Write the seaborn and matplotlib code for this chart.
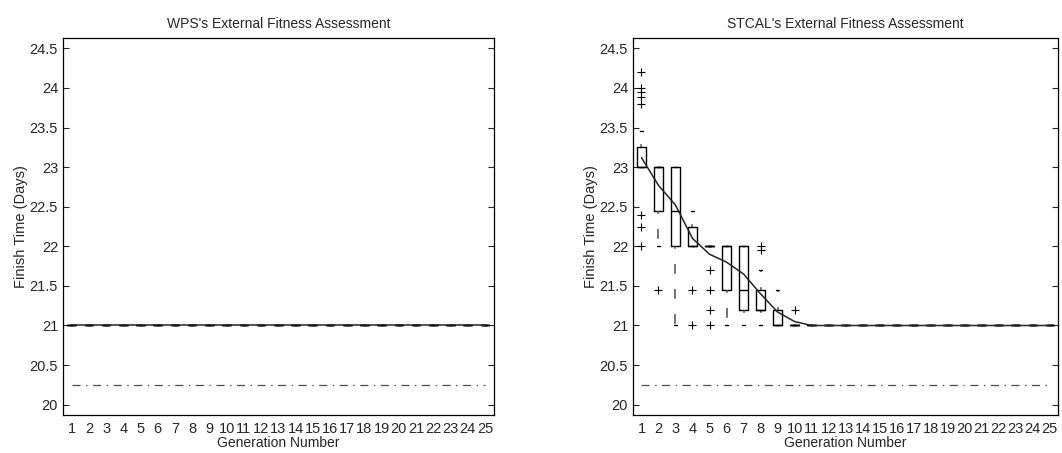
import matplotlib
matplotlib.use("Agg")
import matplotlib.pyplot as plt
import seaborn as sns
import pandas as pd

# Generation numbers
generations = [1, 2, 3, 4, 5, 6, 7, 8, 9, 10, 11, 12, 13, 14, 15, 16, 17, 18, 19, 20, 21, 22, 23, 24, 25]

# WPS external fitness per generation (days): five-number summaries and mean
wps_q1 = [21.0] * 25
wps_med = [21.0] * 25
wps_q3 = [21.0] * 25
wps_lo = [21.0] * 25
wps_hi = [21.0] * 25
wps_mean = [21.0, 21.0, 21.0, 21.0, 21.0, 21.0, 21.0, 21.0, 21.0, 21.0, 21.0, 21.0, 21.0,
            21.0, 21.0, 21.0, 21.0, 21.0, 21.0, 21.0, 21.0, 21.0, 21.0, 21.0, 21.0]

# STCAL external fitness per generation (days)
stcal_q1 = [23.0, 22.45, 22.0, 22.0, 22.0, 21.45, 21.2, 21.2, 21.0, 21.0, 21.0, 21.0, 21.0,
            21.0, 21.0, 21.0, 21.0, 21.0, 21.0, 21.0, 21.0, 21.0, 21.0, 21.0, 21.0]
stcal_med = [23.0, 23.0, 22.45, 22.0, 22.0, 22.0, 21.45, 21.2, 21.0, 21.0, 21.0, 21.0, 21.0,
             21.0, 21.0, 21.0, 21.0, 21.0, 21.0, 21.0, 21.0, 21.0, 21.0, 21.0, 21.0]
stcal_q3 = [23.25, 23.0, 23.0, 22.25, 22.0, 22.0, 22.0, 21.45, 21.2, 21.0, 21.0, 21.0, 21.0,
            21.0, 21.0, 21.0, 21.0, 21.0, 21.0, 21.0, 21.0, 21.0, 21.0, 21.0, 21.0]
stcal_lo = [23.0, 22.0, 21.0, 22.0, 22.0, 21.0, 21.0, 21.0, 21.0, 21.0, 21.0, 21.0, 21.0,
            21.0, 21.0, 21.0, 21.0, 21.0, 21.0, 21.0, 21.0, 21.0, 21.0, 21.0, 21.0]
stcal_hi = [23.45, 23.0, 23.0, 22.45, 22.0, 22.0, 22.0, 21.7, 21.45, 21.0, 21.0, 21.0, 21.0,
            21.0, 21.0, 21.0, 21.0, 21.0, 21.0, 21.0, 21.0, 21.0, 21.0, 21.0, 21.0]
stcal_fliers = {
    1: [24.2, 24.0, 23.95, 23.88, 23.8, 22.4, 22.25, 22.0],
    2: [21.45],
    4: [21.45, 21.0],
    5: [21.7, 21.45, 21.2, 21.0],
    8: [22.0, 21.95],
    10: [21.2],
}
stcal_mean = [23.12, 22.77, 22.52, 22.1, 21.9, 21.8, 21.65, 21.4, 21.17, 21.05, 21.0, 21.0, 21.0,
              21.0, 21.0, 21.0, 21.0, 21.0, 21.0, 21.0, 21.0, 21.0, 21.0, 21.0, 21.0]

# Lower bound on finish time (days)
lower_bound = 20.25

titles = ["WPS's External Fitness Assessment", "STCAL's External Fitness Assessment"]
y_ticks = [20, 20.5, 21, 21.5, 22, 22.5, 23, 23.5, 24, 24.5]

sns.set_style("white")
plt.rcParams["font.family"] = ["Liberation Sans", "DejaVu Sans"]
plt.rcParams["lines.scale_dashes"] = False
plt.rcParams["axes.linewidth"] = 0.9

fig = plt.figure(figsize=(10.62, 4.53), dpi=100)
ax_l = fig.add_axes([0.0593, 0.0839, 0.4055, 0.8322])
ax_r = fig.add_axes([0.5960, 0.0839, 0.4005, 0.8322])


def summaries(q1, med, q3, lo, hi, fliers):
    stats = []
    for i, g in enumerate(generations):
        stats.append(dict(q1=q1[i], med=med[i], q3=q3[i], whislo=lo[i], whishi=hi[i],
                          fliers=fliers.get(g, [])))
    return stats


def draw_panel(ax, stats, mean, title):
    ax.bxp(stats, positions=generations, widths=0.5, capwidths=0.22,
           manage_ticks=False, showfliers=True,
           boxprops=dict(color="black", linewidth=1.0),
           medianprops=dict(color="black", linewidth=1.0),
           whiskerprops=dict(color="0.3", linewidth=1.1, linestyle=(5, (7, 11))),
           capprops=dict(color="black", linewidth=1.0),
           flierprops=dict(marker="+", markersize=6, markeredgecolor="black",
                           markeredgewidth=0.8, linestyle="none"))
    df = pd.DataFrame({"gen": generations, "mean": mean,
                       "bound": [lower_bound] * len(generations)})
    sns.lineplot(data=df, x="gen", y="mean", ax=ax, color="0.15", linewidth=1.1, zorder=4)
    sns.lineplot(data=df, x="gen", y="bound", ax=ax, color="0.3", linewidth=0.9,
                 linestyle=(0, (5.8, 4, 1, 4)), zorder=3)
    ax.set_xlim(0.5, 25.5)
    ax.set_ylim(19.87, 24.63)
    ax.set_xticks(generations)
    ax.set_xticklabels([str(g) for g in generations])
    ax.set_yticks(y_ticks)
    ax.set_yticklabels(["20", "20.5", "21", "21.5", "22", "22.5", "23", "23.5", "24", "24.5"])
    ax.tick_params(axis="x", length=0, pad=5, labelsize=10.5)
    ax.tick_params(axis="y", direction="in", length=4, width=0.8, left=True, right=True,
                   pad=3.5, labelsize=10.5)
    for s in ax.spines.values():
        s.set_visible(True)
        s.set_color("black")
    ax.set_title(title, fontsize=10, pad=7)
    ax.set_xlabel("Generation Number", fontsize=10, labelpad=0)
    ax.set_ylabel("Finish Time (Days)", fontsize=10.5, labelpad=1)


draw_panel(ax_l, summaries(wps_q1, wps_med, wps_q3, wps_lo, wps_hi, {}), wps_mean, titles[0])
draw_panel(ax_r, summaries(stcal_q1, stcal_med, stcal_q3, stcal_lo, stcal_hi, stcal_fliers),
           stcal_mean, titles[1])

fig.savefig("out.png", dpi=100)
